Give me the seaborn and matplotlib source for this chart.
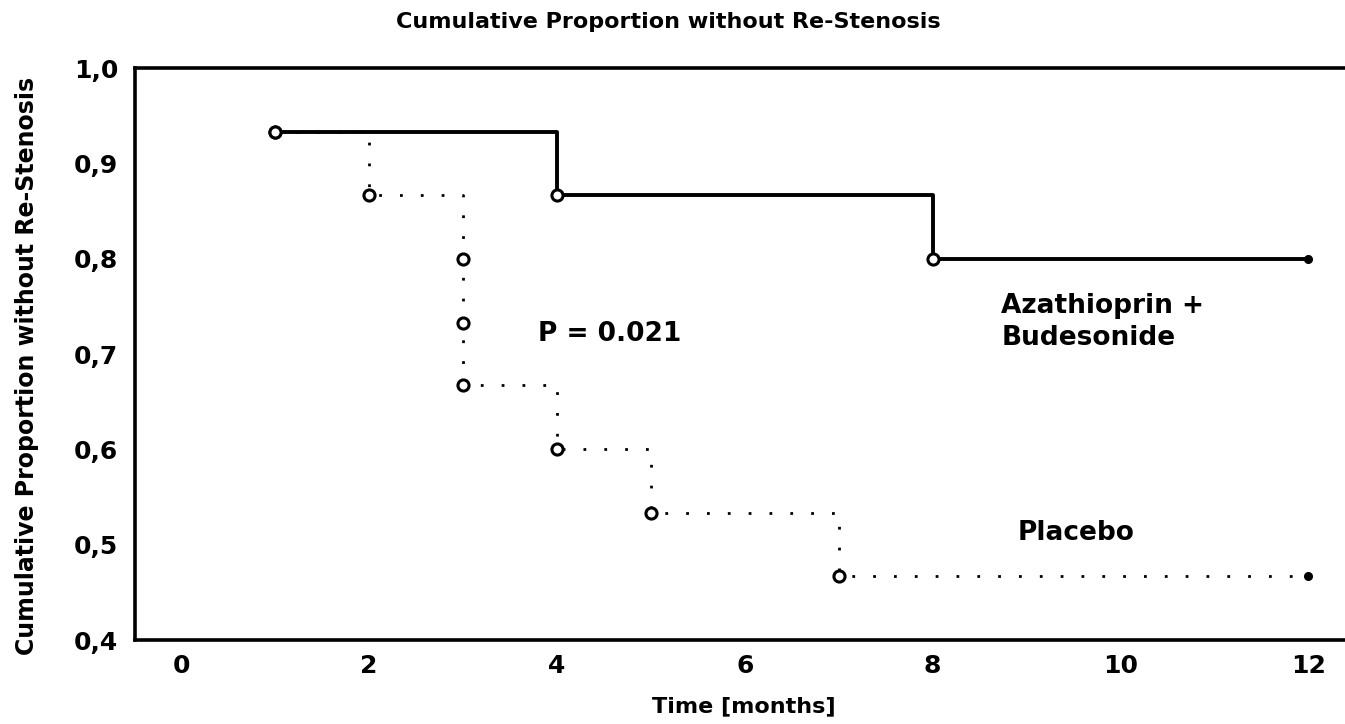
import numpy as np
import pandas as pd
import matplotlib
matplotlib.use('Agg')
import matplotlib.pyplot as plt
import seaborn as sns

# Kaplan-Meier style step data
time_combo = [1, 4, 8, 12]
surv_combo = [0.933, 0.867, 0.800, 0.800]
time_placebo = [1, 2, 3, 3, 3, 4, 5, 7, 12]
surv_placebo = [0.933, 0.867, 0.800, 0.733, 0.667, 0.600, 0.533, 0.467, 0.467]

xticks = [0, 2, 4, 6, 8, 10, 12]
xtick_labels = ['0', '2', '4', '6', '8', '10', '12']
yticks = [0.4, 0.5, 0.6, 0.7, 0.8, 0.9, 1.0]
ytick_labels = ['0,4', '0,5', '0,6', '0,7', '0,8', '0,9', '1,0']

title = 'Cumulative Proportion without Re-Stenosis'
ylabel = 'Cumulative Proportion without Re-Stenosis'
xlabel = 'Time [months]'

sns.set_style('white')
plt.rcParams['font.family'] = ['DejaVu Sans']
plt.rcParams['font.weight'] = 'bold'
for key in ['text.color', 'axes.labelcolor', 'xtick.color', 'ytick.color']:
    plt.rcParams[key] = 'black'

fig = plt.figure(figsize=(13.45, 7.24), dpi=100)
ax = fig.add_axes([0.1004, 0.116, 0.8996, 0.790])

combo = pd.DataFrame({'time': time_combo, 'surv': surv_combo})
placebo = pd.DataFrame({'time': time_placebo, 'surv': surv_placebo})

sns.lineplot(data=placebo, x='time', y='surv', ax=ax, estimator=None, sort=False,
             drawstyle='steps-post', color='black', lw=2.0, linestyle=(0, (1, 6.5)))
sns.lineplot(data=combo, x='time', y='surv', ax=ax, estimator=None, sort=False,
             drawstyle='steps-post', color='black', lw=2.8)

# open circles at events, small filled dot at end of follow-up
ax.plot(placebo['time'][:-1], placebo['surv'][:-1], 'o', ms=8, mfc='white',
        mec='black', mew=2.2, zorder=5)
ax.plot(combo['time'][:-1], combo['surv'][:-1], 'o', ms=8, mfc='white',
        mec='black', mew=2.2, zorder=5)
ax.plot(placebo['time'].iloc[-1:], placebo['surv'].iloc[-1:], 'o', ms=5.5,
        color='black', zorder=5)
ax.plot(combo['time'].iloc[-1:], combo['surv'].iloc[-1:], 'o', ms=5.5,
        color='black', zorder=5)

ax.set_xlim(-0.49, 12.39)
ax.set_ylim(0.4, 1.0)
ax.set_xticks(xticks, xtick_labels)
ax.set_yticks(yticks, ytick_labels)
ax.tick_params(axis='both', length=0, labelsize=18)
ax.tick_params(axis='x', pad=10)
ax.tick_params(axis='y', pad=12)
for lab in ax.get_xticklabels() + ax.get_yticklabels():
    lab.set_fontweight('bold')

ax.spines['right'].set_visible(False)
for s in ['left', 'bottom', 'top']:
    ax.spines[s].set_linewidth(2.6)
    ax.spines[s].set_color('black')

ax.set_xlabel(xlabel, fontsize=16, fontweight='bold')
ax.set_ylabel(ylabel, fontsize=17, fontweight='bold')
ax.xaxis.set_label_coords(0.503, -0.098)
ax.yaxis.set_label_coords(-0.079, 0.48)
fig.text(0.497, 0.97, title, ha='center', va='center', fontsize=16, fontweight='bold')

ax.text(3.8, 0.721, 'P = 0.021', fontsize=19, fontweight='bold', va='center')
ax.text(8.73, 0.750, 'Azathioprin +', fontsize=19, fontweight='bold', va='center')
ax.text(8.73, 0.717, 'Budesonide', fontsize=19, fontweight='bold', va='center')
ax.text(8.91, 0.512, 'Placebo', fontsize=19, fontweight='bold', va='center')

fig.savefig('out.png', dpi=100)
